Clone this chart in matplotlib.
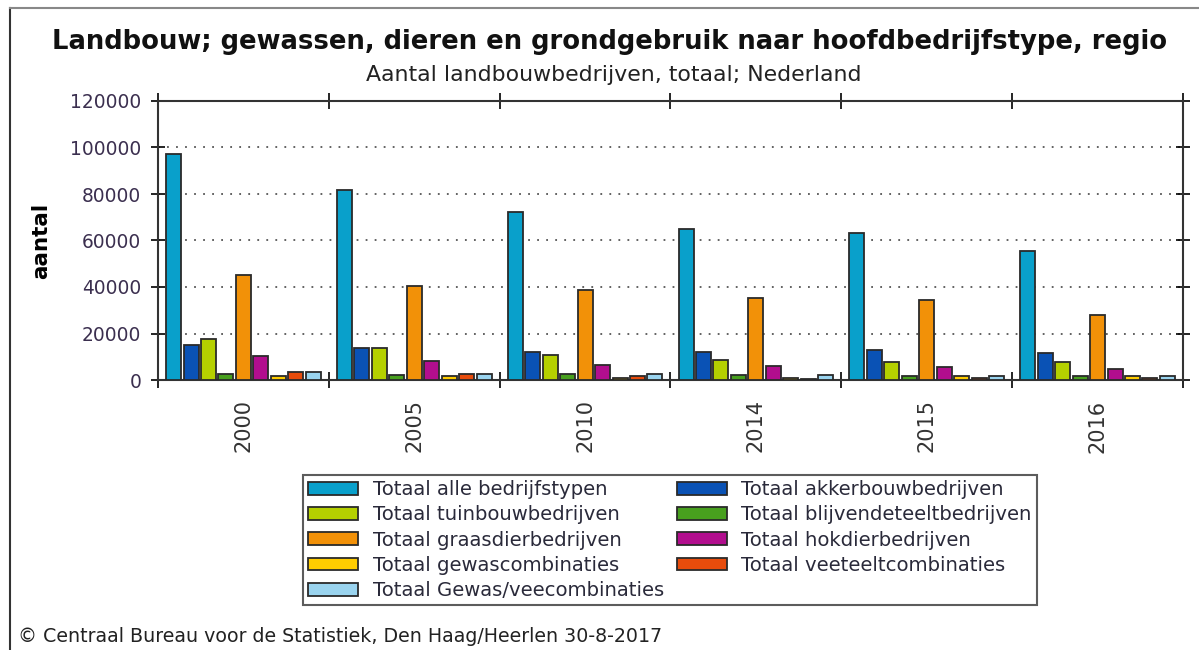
import numpy as np
import matplotlib
matplotlib.use("Agg")
import matplotlib.pyplot as plt
from matplotlib.lines import Line2D

# data
years = ["2000", "2005", "2010", "2014", "2015", "2016"]
series_names = [
    "Totaal alle bedrijfstypen",
    "Totaal akkerbouwbedrijven",
    "Totaal tuinbouwbedrijven",
    "Totaal blijvendeteeltbedrijven",
    "Totaal graasdierbedrijven",
    "Totaal hokdierbedrijven",
    "Totaal gewascombinaties",
    "Totaal veeteeltcombinaties",
    "Totaal Gewas/veecombinaties",
]
alle = [97000, 81600, 72100, 65100, 63200, 55300]
akkerbouw = [15100, 13700, 12200, 12200, 12900, 11500]
tuinbouw = [17500, 13600, 10800, 8600, 7900, 7900]
blijvende = [2400, 2300, 2600, 2000, 1700, 1700]
graasdier = [45000, 40500, 38500, 35200, 34200, 28000]
hokdier = [10500, 8200, 6500, 6000, 5700, 4600]
gewascomb = [1600, 1600, 700, 1000, 1700, 1700]
veeteelt = [3400, 2400, 1700, 600, 850, 850]
gewasvee = [3400, 2400, 2600, 2000, 1700, 1800]
colors = ["#09a0cb", "#0a52b5", "#b5d000", "#48a01e", "#f29108",
          "#b20e8e", "#ffcc00", "#e84c0c", "#9ad4ef"]

all_series = [alle, akkerbouw, tuinbouw, blijvende, graasdier, hokdier,
              gewascomb, veeteelt, gewasvee]

fig = plt.figure(figsize=(11.99, 6.5), dpi=100)
ax = fig.add_axes([158 / 1199, 1 - 380 / 650, (1183 - 158) / 1199, (380 - 101) / 650])

n = len(all_series)
x = np.arange(len(years))
group_w = 0.92
w = group_w / n
handles = []
for i, (vals, c) in enumerate(zip(all_series, colors)):
    pos = x - group_w / 2 + w * (i + 0.5)
    b = ax.bar(pos, vals, width=w * 0.86, color=c, edgecolor="#2a2a2a",
               linewidth=1.3, label=series_names[i], zorder=3)
    handles.append(b)

ax.set_xlim(-0.5, len(years) - 0.5)
ax.set_ylim(0, 120000)
ax.set_yticks(np.arange(0, 120001, 20000))
ax.set_yticklabels([str(v) for v in range(0, 120001, 20000)],
                   fontsize=13.4, color="#3b2f4f")
ax.tick_params(axis="y", direction="inout", length=10, width=1.2,
               right=True, pad=7)
ax.set_xticks(x)
ax.set_xticklabels(years, rotation=90, fontsize=15, color="#333333")
ax.tick_params(axis="x", length=0, pad=14)
ax.set_xticks(np.arange(-0.5, len(years)), minor=True)
ax.tick_params(axis="x", which="minor", direction="inout", length=12,
               width=1.2, top=True)
ax.grid(axis="y", linestyle=(0, (1, 4)), color="#555555", linewidth=1.3, zorder=0)
for s in ax.spines.values():
    s.set_linewidth(1.5)
    s.set_color("#333333")

ax.set_ylabel("aantal", fontsize=15.5, fontweight="bold")
ax.yaxis.set_label_coords(-0.104, 0.5)

fig.text(0.508, 1 - 42 / 650, "Landbouw; gewassen, dieren en grondgebruik naar hoofdbedrijfstype, regio",
         ha="center", va="center", fontsize=18.6, fontweight="bold", color="#111111")
fig.text(0.512, 1 - 75 / 650, "Aantal landbouwbedrijven, totaal; Nederland",
         ha="center", va="center", fontsize=15.8, color="#222222")
fig.text(18 / 1199, 1 - 637 / 650,
         "\u00a9 Centraal Bureau voor de Statistiek, Den Haag/Heerlen 30-8-2017",
         ha="left", va="center", fontsize=13.7, color="#222222")

order = [0, 2, 4, 6, 8, 1, 3, 5, 7]
leg = fig.legend([handles[i] for i in order], [series_names[i] for i in order],
                 loc="upper left", bbox_to_anchor=(303 / 1199, 1 - 475 / 650),
                 ncol=2, fontsize=14.1, frameon=True, fancybox=False,
                 handlelength=2.55, handleheight=0.62, handletextpad=0.75,
                 columnspacing=0.65, labelspacing=0.32, borderpad=0.26,
                 borderaxespad=0)
leg.get_frame().set_edgecolor("#333333")
leg.get_frame().set_linewidth(1.5)
for t in leg.get_texts():
    t.set_color("#2a2a3a")

# outer frame lines (top and left)
fig.add_artist(Line2D([10 / 1199, 10 / 1199], [0, 1 - 8 / 650],
                      transform=fig.transFigure, color="#333333", linewidth=1.5))
fig.add_artist(Line2D([10 / 1199, 1], [1 - 8 / 650, 1 - 8 / 650],
                      transform=fig.transFigure, color="#888888", linewidth=1.5))

fig.savefig("out.png", dpi=100)
